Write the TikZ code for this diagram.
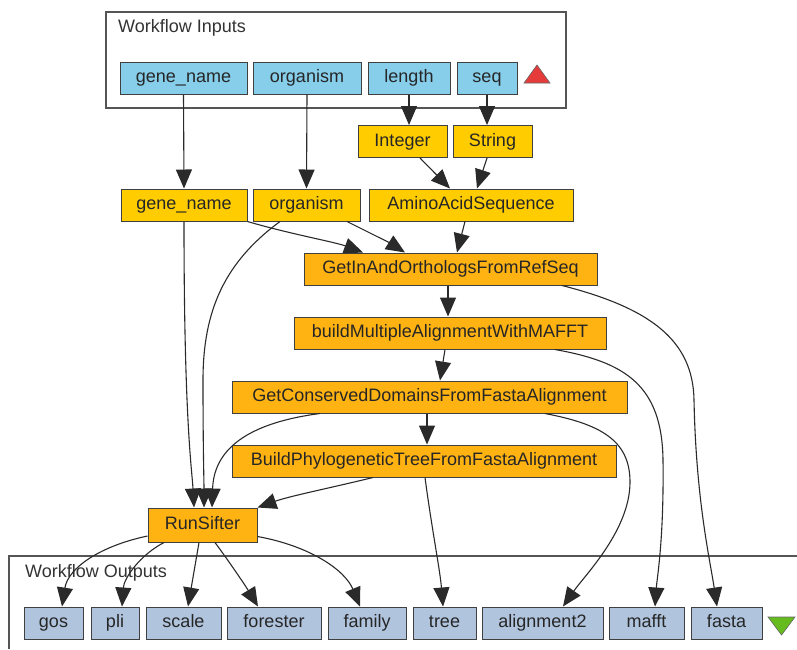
\documentclass[tikz,border=0pt]{standalone}
\usepackage{fontspec}
\setmainfont{Liberation Sans}
\usetikzlibrary{arrows.meta}
\definecolor{inblue}{HTML}{87CEEB}
\definecolor{outblue}{HTML}{B0C4DE}
\definecolor{constgold}{HTML}{FFCC00}
\definecolor{procorange}{HTML}{FFB312}
\definecolor{edgegray}{HTML}{2A2A2A}
\definecolor{framegray}{HTML}{555555}
\definecolor{upred}{HTML}{E63B3B}
\definecolor{downgreen}{HTML}{66BB1E}
\begin{document}
\begin{tikzpicture}[x=1pt,y=-1pt,
  box/.style={draw=black!75, line width=1pt, inner sep=0pt, minimum height=32pt,
              text height=13pt, text depth=4pt,
              font=\fontsize{18}{20}\selectfont, text=black!85},
  inport/.style={box, fill=inblue},
  outport/.style={box, fill=outblue},
  const/.style={box, fill=constgold},
  proc/.style={box, fill=procorange},
  link/.style={draw=edgegray, line width=1.1pt, -{Triangle[length=19pt,width=16pt]}},
  frame/.style={draw=framegray, line width=1.3pt},
  title/.style={font=\fontsize{18}{20}\selectfont, text=black!80, anchor=west, inner sep=0pt},
  marker/.style={draw=black!60, line width=0.6pt}]
\useasboundingbox (0,0) rectangle (797,649);

% ---- workflow input frame ----
\draw[frame] (106,12) rectangle (566,108);
\node[title] (intitle) at (118,28) {Workflow Inputs};
\node[inport, minimum width=127pt] (ign)  at (183.5,78) {gene\_name};
\node[inport, minimum width=108pt] (iorg) at (307,78)   {organism};
\node[inport, minimum width=82pt]  (ilen) at (409,78)   {length};
\node[inport, minimum width=60pt]  (iseq) at (487,78)   {seq};
\fill[upred, marker] (524,83) -- (550,83) -- (537,65) -- cycle;

% ---- constants and local workers ----
\node[const, minimum width=89pt]  (int) at (402.5,141.5) {Integer};
\node[const, minimum width=79pt]  (str) at (492.5,141.5) {String};
\node[const, minimum width=126pt] (pgn)  at (184,205)   {gene\_name};
\node[const, minimum width=107pt] (porg) at (306.5,205) {organism};
\node[const, minimum width=204pt] (aas)  at (471,205)   {AminoAcidSequence};

% ---- processors ----
\node[proc, minimum width=293pt] (getin) at (450.5,269) {GetInAndOrthologsFromRefSeq};
\node[proc, minimum width=312pt] (bmm)   at (450,333)   {buildMultipleAlignmentWithMAFFT};
\node[proc, minimum width=395pt] (gcd)   at (429.5,397) {GetConservedDomainsFromFastaAlignment};
\node[proc, minimum width=384pt] (bpt)   at (424,461)   {BuildPhylogeneticTreeFromFastaAlignment};
\node[proc, minimum width=109pt, minimum height=34pt] (rs) at (202.5,525) {RunSifter};

% ---- workflow output frame ----
\draw[frame] (9,649) -- (9,556) -- (797,556);
\node[title] (outtitle) at (25,573) {Workflow Outputs};
\node[outport, minimum width=59pt]  (ogos)  at (53.5,623)  {gos};
\node[outport, minimum width=48pt]  (opli)  at (115,623)   {pli};
\node[outport, minimum width=75pt]  (oscale) at (183.5,623) {scale};
\node[outport, minimum width=94pt]  (ofor)  at (274,623)   {forester};
\node[outport, minimum width=78pt]  (ofam)  at (367,623)   {family};
\node[outport, minimum width=63pt]  (otree) at (444.5,623) {tree};
\node[outport, minimum width=121pt] (oaln)  at (542.5,623) {alignment2};
\node[outport, minimum width=75pt]  (omafft) at (646.5,623) {mafft};
\node[outport, minimum width=71pt]  (ofasta) at (726.5,623) {fasta};
\fill[downgreen, marker] (768,617) -- (795,617) -- (781.5,635) -- cycle;

% ---- data links ----
\draw[link] (ign.south) -- (pgn.north);
\draw[link] (iorg.south) -- (porg.north);
\draw[link] (ilen.south) -- (ilen.south |- int.north);
\draw[link] (iseq.south) -- (iseq.south |- str.north);
\draw[link] ([xshift=17.5pt]int.south) -- ([xshift=-21pt]aas.north);
\draw[link] ([xshift=-5.5pt]str.south) -- ([xshift=6pt]aas.north);

\draw[link] (pgn.south east) .. controls (290,234) and (335,242) .. ([xshift=-87.5pt]getin.north);
\draw[link] ([xshift=40.5pt]porg.south) .. controls (370,233) and (390,243) .. ([xshift=-45.5pt]getin.north);
\draw[link] ([xshift=-6pt]aas.south) -- ([xshift=6.5pt]getin.north);
\draw[link] ([xshift=-2.5pt]getin.south) -- ([xshift=-2pt]bmm.north);
\draw[link] ([xshift=-5pt]bmm.south) -- ([xshift=10.5pt]gcd.north);
\draw[link] ([xshift=-2.5pt]gcd.south) -- ([xshift=3pt]bpt.north);

% inputs of RunSifter
\draw[link] (pgn.south) .. controls (184,420) and (192,470) .. ([xshift=-8.5pt]rs.north);
\draw[link] ([xshift=-26.5pt]porg.south) .. controls (225,262) and (203,310) .. (203,380)
            .. controls (203,450) and (204,480) .. ([xshift=1.5pt]rs.north);
\draw[link] ([xshift=-109.5pt]gcd.south) .. controls (255,422) and (214,445) .. ([xshift=9.5pt]rs.north);
\draw[link] ([xshift=-51pt]bpt.south) .. controls (330,488) and (290,496) .. (rs.north east);

% outputs of RunSifter
\draw[link] ([yshift=-11pt]rs.west) .. controls (100,546) and (68,568) .. ([xshift=8.5pt]ogos.north);
\draw[link] ([xshift=-38.5pt]rs.south) .. controls (140,555) and (124,578) .. ([xshift=7pt]opli.north);
\draw[link] ([xshift=-3.5pt]rs.south) -- ([xshift=4.5pt]oscale.north);
\draw[link] ([xshift=12.5pt]rs.south) .. controls (228,560) and (245,585) .. ([xshift=-16pt]ofor.north);
\draw[link] ([yshift=6pt]rs.south east) .. controls (310,546) and (345,570) .. ([xshift=-7pt]ofam.north);

% outputs of the analysis chain
\draw[link] ([xshift=1pt]bpt.south) .. controls (432,530) and (440,570) .. ([xshift=-1.5pt]otree.north);
\draw[link] ([xshift=115.5pt]gcd.south) .. controls (600,424) and (630,440) .. (630,482)
            .. controls (630,530) and (585,575) .. ([xshift=20.5pt]oaln.north);
\draw[link] ([xshift=105pt]bmm.south) .. controls (625,362) and (662,385) .. (663,460)
            .. controls (664,540) and (657,578) .. ([xshift=8.5pt]omafft.north);
\draw[link] ([xshift=111.5pt]getin.south) .. controls (650,308) and (693,340) .. (694,400)
            .. controls (696,500) and (710,560) .. ([xshift=-9.5pt]ofasta.north);
\end{tikzpicture}
\end{document}
